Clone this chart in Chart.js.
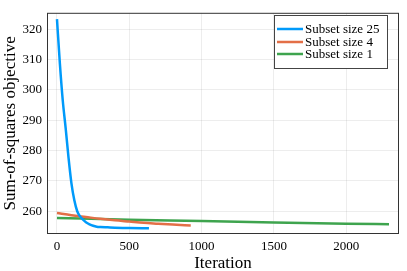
<!DOCTYPE html>
<html>
<head>
<meta charset="utf-8">
<script src="https://cdn.jsdelivr.net/npm/chart.js@4"></script>
<style>
  html, body { margin: 0; padding: 0; background: #fff; }
  #wrap { width: 407px; height: 271px; }
</style>
</head>
<body>
<div id="wrap"><canvas id="myChart" width="407" height="271"></canvas></div>
<script>
const seriesNames = ['Subset size 25', 'Subset size 4', 'Subset size 1']
const seriesColors = ['#009afa', '#e36f47', '#3ea44e']

const iterA = [0, 20, 40, 60, 80, 100, 120, 140, 160, 180, 200, 225, 250, 275, 300, 350, 400, 500, 636]
const valueA = [323.3, 308.7, 296.5, 287.4, 277.6, 269.2, 263.6, 260.0, 258.3, 257.2, 256.4, 255.7, 255.2, 254.9, 254.8, 254.7, 254.6, 254.5, 254.4]

const iterB = [0, 100, 200, 300, 400, 500, 600, 700, 800, 925]
const valueB = [259.4, 258.7, 258.1, 257.5, 257.0, 256.6, 256.2, 255.9, 255.6, 255.3]

const iterC = [0, 500, 1000, 1500, 2000, 2296]
const valueC = [257.8, 257.2, 256.8, 256.3, 255.9, 255.7]

const xTicks = [0, 500, 1000, 1500, 2000]
const yTicks = [260, 270, 280, 290, 300, 310, 320]

const serif = 'Liberation Serif'

function pairs(xs, ys) {
  return xs.map((x, i) => ({ x: x, y: ys[i] }))
}

const frame = {
  id: 'frame',
  afterDraw(chart) {
    const { ctx, chartArea: a } = chart
    ctx.save()
    ctx.strokeStyle = '#333'
    ctx.lineWidth = 1
    ctx.strokeRect(a.left + 0.5, a.top + 0.5, a.right - a.left - 1, a.bottom - a.top - 1)
    // legend box
    const bx = 274.5, by = 15.5, bw = 113, bh = 53
    ctx.fillStyle = '#fff'
    ctx.fillRect(bx, by, bw, bh)
    ctx.strokeStyle = '#444'
    ctx.strokeRect(bx, by, bw, bh)
    ctx.font = '13px "' + serif + '"'
    ctx.textBaseline = 'middle'
    const rows = [29, 42, 54]
    chart.data.datasets.forEach((ds, i) => {
      ctx.strokeStyle = ds.borderColor
      ctx.lineWidth = 2.5
      ctx.beginPath()
      ctx.moveTo(277, rows[i])
      ctx.lineTo(303, rows[i])
      ctx.stroke()
      ctx.fillStyle = '#000'
      ctx.fillText(ds.label, 305, rows[i] + 1)
    })
    ctx.restore()
  }
}

const ctx = document.getElementById('myChart')
const myChart = new Chart(ctx, {
  type: 'scatter',
  data: {
    datasets: [
      { label: seriesNames[0], data: pairs(iterA, valueA), borderColor: seriesColors[0] },
      { label: seriesNames[1], data: pairs(iterB, valueB), borderColor: seriesColors[1] },
      { label: seriesNames[2], data: pairs(iterC, valueC), borderColor: seriesColors[2] }
    ].map(d => Object.assign(d, {
      showLine: true,
      pointRadius: 0,
      borderWidth: 2.5,
      cubicInterpolationMode: 'monotone',
      backgroundColor: 'transparent'
    }))
  },
  options: {
    responsive: false,
    animation: false,
    layout: { padding: { top: 7, right: 8, left: 0, bottom: 0 } },
    plugins: {
      legend: { display: false },
      tooltip: { enabled: false }
    },
    scales: {
      x: {
        type: 'linear',
        min: -69,
        max: 2365,
        afterBuildTicks: s => { s.ticks = xTicks.map(v => ({ value: v })) },
        afterFit: s => { s.height = 37 },
        grid: { color: 'rgba(0,0,0,0.07)', drawTicks: false },
        border: { display: false },
        ticks: { color: '#000', padding: 5, maxRotation: 0, font: { family: serif, size: 13 }, callback: v => String(v) },
        title: { display: true, text: 'Iteration', color: '#000', padding: { top: 0, bottom: -3 }, font: { family: serif, size: 17 } }
      },
      y: {
        type: 'linear',
        min: 252.5,
        max: 325.4,
        afterBuildTicks: s => { s.ticks = yTicks.map(v => ({ value: v })) },
        afterFit: s => { s.width = 47 },
        grid: { color: 'rgba(0,0,0,0.07)', drawTicks: false },
        border: { display: false },
        ticks: { color: '#000', padding: 5, font: { family: serif, size: 13 }, callback: v => String(v) },
        title: { display: true, text: 'Sum-of-squares objective', color: '#000', padding: 0, font: { family: serif, size: 17 } }
      }
    }
  },
  plugins: [frame]
})
</script>
</body>
</html>
